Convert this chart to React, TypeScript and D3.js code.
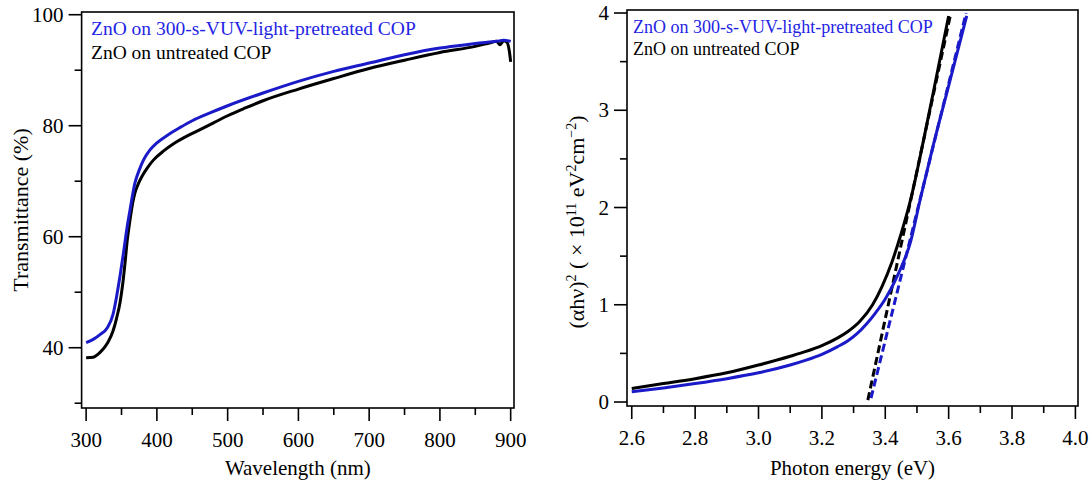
import React from 'react';
import * as d3 from 'd3';

// ---------- Data: transmittance spectra ----------
const WL_TREATED = [300, 310, 320, 330, 338, 343, 348, 353, 358, 362, 369, 375, 381, 390, 400, 415, 433, 450, 475, 500, 550, 600, 650, 700, 750, 800, 850, 870, 880, 890, 900];
const T_TREATED = [40.9, 41.5, 42.4, 43.6, 46.0, 49.2, 53.0, 57.3, 61.8, 64.8, 69.7, 72.0, 73.8, 75.6, 76.9, 78.3, 79.7, 80.9, 82.3, 83.6, 85.9, 88.0, 89.8, 91.3, 92.8, 94.0, 94.8, 95.1, 95.2, 95.4, 95.2];
const WL_UNTREATED = [300, 310, 320, 330, 338, 343, 348, 352, 355, 358, 362, 366, 369, 374, 379, 387, 395, 410, 423, 445, 466, 480, 500, 525, 550, 600, 650, 700, 750, 800, 850, 870, 880, 885, 890, 895, 898, 900];
const T_UNTREATED = [38.2, 38.3, 39.2, 40.8, 43.0, 45.3, 48.2, 51.8, 55.3, 59.2, 63.0, 66.2, 67.9, 69.6, 70.9, 72.5, 73.8, 75.5, 76.7, 78.3, 79.6, 80.5, 81.8, 83.2, 84.5, 86.6, 88.5, 90.3, 91.8, 93.2, 94.3, 94.9, 95.2, 94.6, 95.3, 95.0, 93.5, 91.5];

// ---------- Data: Tauc plot ----------
const E_TREATED = [2.6, 2.7, 2.8, 2.9, 3.0, 3.1, 3.15, 3.2, 3.25, 3.28, 3.31, 3.34, 3.37, 3.4, 3.44, 3.48, 3.51, 3.55, 3.6, 3.657];
const A_TREATED = [0.106, 0.145, 0.19, 0.24, 0.30, 0.38, 0.43, 0.49, 0.57, 0.625, 0.70, 0.80, 0.92, 1.06, 1.31, 1.65, 2.08, 2.62, 3.25, 3.97];
const E_UNTREATED = [2.6, 2.7, 2.8, 2.9, 3.0, 3.1, 3.15, 3.2, 3.25, 3.28, 3.32, 3.36, 3.39, 3.42, 3.45, 3.48, 3.52, 3.56, 3.6];
const A_UNTREATED = [0.14, 0.19, 0.24, 0.30, 0.38, 0.47, 0.52, 0.58, 0.66, 0.72, 0.83, 1.0, 1.19, 1.43, 1.73, 2.08, 2.68, 3.32, 3.97];
const FIT_TREATED_E = [3.355, 3.655];
const FIT_TREATED_A = [0.04, 4.0];
const FIT_UNTREATED_E = [3.345, 3.607];
const FIT_UNTREATED_A = [0.02, 4.0];

// ---------- Ticks & labels ----------
const LEFT_X_MAJOR = [300, 400, 500, 600, 700, 800, 900];
const LEFT_X_MINOR = [350, 450, 550, 650, 750, 850];
const LEFT_Y_MAJOR = [40, 60, 80, 100];
const LEFT_Y_MINOR = [30, 50, 70, 90];
const RIGHT_X_MAJOR = [2.6, 2.8, 3.0, 3.2, 3.4, 3.6, 3.8, 4.0];
const RIGHT_X_MINOR = [2.7, 2.9, 3.1, 3.3, 3.5, 3.7, 3.9];
const RIGHT_Y_MAJOR = [0, 1, 2, 3, 4];
const RIGHT_Y_MINOR = [0.5, 1.5, 2.5, 3.5];
const LEGEND_LABELS = ['ZnO on 300-s-VUV-light-pretreated COP', 'ZnO on untreated COP'];

const BLUE = '#1a1ac8';
const BLUE_TEXT = '#2424e4';
const FONT = '"Liberation Serif", "Times New Roman", serif';

function zip(xs: number[], ys: number[]): [number, number][] {
  return xs.map((x, i) => [x, ys[i]]);
}

export default function App() {
  // Left panel scales
  const lx = d3.scaleLinear().domain([293.6, 904.7]).range([81.6, 514]);
  const ly = d3.scaleLinear().domain([29.14, 100.49]).range([408, 12]);
  // Right panel scales
  const rx = d3.scaleLinear().domain([2.585, 4.0082]).range([627, 1078]);
  const ry = d3.scaleLinear().domain([-0.041, 4.031]).range([406, 10]);

  const lLine = d3.line<[number, number]>().x(d => lx(d[0])).y(d => ly(d[1])).curve(d3.curveMonotoneX);
  const rLine = d3.line<[number, number]>().x(d => rx(d[0])).y(d => ry(d[1])).curve(d3.curveMonotoneX);
  const rStraight = d3.line<[number, number]>().x(d => rx(d[0])).y(d => ry(d[1]));

  const majorLen = 13;
  const minorLen = 7;

  const frame = (x: d3.ScaleLinear<number, number>, y: d3.ScaleLinear<number, number>) => {
    const [x0, x1] = x.range();
    const [y0, y1] = y.range();
    return <rect x={x0} y={y1} width={x1 - x0} height={y0 - y1} fill="none" stroke="#000" strokeWidth={1.6} />;
  };

  const xAxis = (x: d3.ScaleLinear<number, number>, y: d3.ScaleLinear<number, number>, major: number[], minor: number[], fmt: (v: number) => string) => {
    const yb = y.range()[0];
    return (
      <g>
        {major.map(v => (
          <g key={'M' + v}>
            <line x1={x(v)} x2={x(v)} y1={yb} y2={yb + majorLen} stroke="#000" strokeWidth={1.6} />
            <text x={x(v)} y={yb + 39} textAnchor="middle" fontSize={21} fontFamily={FONT}>{fmt(v)}</text>
          </g>
        ))}
        {minor.map(v => (
          <line key={'m' + v} x1={x(v)} x2={x(v)} y1={yb} y2={yb + minorLen} stroke="#000" strokeWidth={1.6} />
        ))}
      </g>
    );
  };

  const yAxis = (x: d3.ScaleLinear<number, number>, y: d3.ScaleLinear<number, number>, major: number[], minor: number[], fmt: (v: number) => string) => {
    const xl = x.range()[0];
    return (
      <g>
        {major.map(v => (
          <g key={'M' + v}>
            <line x1={xl} x2={xl - majorLen} y1={y(v)} y2={y(v)} stroke="#000" strokeWidth={1.6} />
            <text x={xl - majorLen - 5} y={y(v) + 7} textAnchor="end" fontSize={21} fontFamily={FONT}>{fmt(v)}</text>
          </g>
        ))}
        {minor.map(v => (
          <line key={'m' + v} x1={xl} x2={xl - minorLen} y1={y(v)} y2={y(v)} stroke="#000" strokeWidth={1.6} />
        ))}
      </g>
    );
  };

  return (
    <svg width={1091} height={483} style={{ position: 'absolute', left: 0, top: 0, background: '#fff' }}>
      {/* ---------- Left panel ---------- */}
      {frame(lx, ly)}
      {xAxis(lx, ly, LEFT_X_MAJOR, LEFT_X_MINOR, v => String(v))}
      {yAxis(lx, ly, LEFT_Y_MAJOR, LEFT_Y_MINOR, v => String(v))}
      <path d={lLine(zip(WL_UNTREATED, T_UNTREATED)) || ''} fill="none" stroke="#000" strokeWidth={3} strokeLinejoin="round" />
      <path d={lLine(zip(WL_TREATED, T_TREATED)) || ''} fill="none" stroke={BLUE} strokeWidth={3} strokeLinejoin="round" />
      <text x={91} y={35} fontSize={19.5} fontFamily={FONT} fill={BLUE_TEXT}>{LEGEND_LABELS[0]}</text>
      <text x={91} y={59} fontSize={19.5} fontFamily={FONT} fill="#000">{LEGEND_LABELS[1]}</text>
      <text x={(81.6 + 514) / 2} y={475} textAnchor="middle" fontSize={21} fontFamily={FONT}>Wavelength (nm)</text>
      <text transform="translate(28,210) rotate(-90)" textAnchor="middle" fontSize={22} fontFamily={FONT}>Transmittance (%)</text>

      {/* ---------- Right panel ---------- */}
      {frame(rx, ry)}
      {xAxis(rx, ry, RIGHT_X_MAJOR, RIGHT_X_MINOR, v => v.toFixed(1))}
      {yAxis(rx, ry, RIGHT_Y_MAJOR, RIGHT_Y_MINOR, v => String(v))}
      <path d={rStraight(zip(FIT_UNTREATED_E, FIT_UNTREATED_A)) || ''} fill="none" stroke="#000" strokeWidth={3} strokeDasharray="8,4" />
      <path d={rStraight(zip(FIT_TREATED_E, FIT_TREATED_A)) || ''} fill="none" stroke={BLUE} strokeWidth={3} strokeDasharray="8,4" />
      <path d={rLine(zip(E_UNTREATED, A_UNTREATED)) || ''} fill="none" stroke="#000" strokeWidth={3} strokeLinejoin="round" />
      <path d={rLine(zip(E_TREATED, A_TREATED)) || ''} fill="none" stroke={BLUE} strokeWidth={3} strokeLinejoin="round" />
      <text x={633} y={33} fontSize={18} fontFamily={FONT} fill={BLUE_TEXT}>{LEGEND_LABELS[0]}</text>
      <text x={633} y={55} fontSize={18} fontFamily={FONT} fill="#000">{LEGEND_LABELS[1]}</text>
      <text x={852.5} y={475} textAnchor="middle" fontSize={21} fontFamily={FONT}>Photon energy (eV)</text>
      <text transform="translate(584,222) rotate(-90)" textAnchor="middle" fontSize={22} fontFamily={FONT}>
        <tspan>(αhν)</tspan>
        <tspan dy={-8} fontSize={14}>2</tspan>
        <tspan dy={8}> ( × 10</tspan>
        <tspan dy={-8} fontSize={14}>11</tspan>
        <tspan dy={8}> eV</tspan>
        <tspan dy={-8} fontSize={14}>2</tspan>
        <tspan dy={8}>cm</tspan>
        <tspan dy={-8} fontSize={14}>−2</tspan>
        <tspan dy={8}>)</tspan>
      </text>
    </svg>
  );
}
